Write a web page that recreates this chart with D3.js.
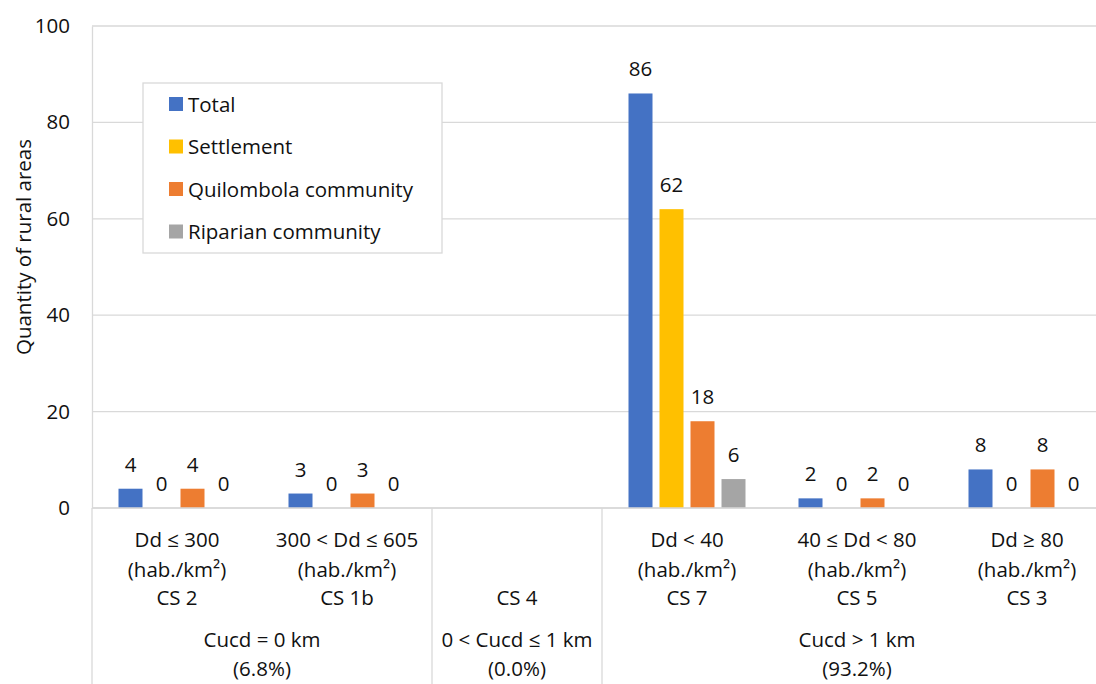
<!DOCTYPE html>
<html>
<head>
<meta charset="utf-8">
<script src="https://cdn.jsdelivr.net/npm/d3@7"></script>
<style>
  body { margin: 0; background: #fff; }
  text { font-family: "Open Sans", "Noto Sans", sans-serif; fill: #111; }
</style>
</head>
<body>
<script>
const categories = ["CS 2", "CS 1b", "CS 4", "CS 7", "CS 5", "CS 3"];
const subLabels = [
  ["Dd ≤ 300", "(hab./km²)", "CS 2"],
  ["300 < Dd ≤ 605", "(hab./km²)", "CS 1b"],
  ["", "", "CS 4"],
  ["Dd < 40", "(hab./km²)", "CS 7"],
  ["40 ≤ Dd < 80", "(hab./km²)", "CS 5"],
  ["Dd ≥ 80", "(hab./km²)", "CS 3"]
];
const groups = [
  { lines: ["Cucd = 0 km", "(6.8%)"], span: 2 },
  { lines: ["0 < Cucd ≤ 1 km", "(0.0%)"], span: 1 },
  { lines: ["Cucd > 1 km", "(93.2%)"], span: 3 }
];
const seriesNames = ["Total", "Settlement", "Quilombola community", "Riparian community"];
const colors = ["#4472C4", "#FFC000", "#ED7D31", "#A5A5A5"];
// null = no bar / no label (CS 4 is empty)
const total      = [4, 3, null, 86, 2, 8];
const settlement = [0, 0, null, 62, 0, 0];
const quilombola = [4, 3, null, 18, 2, 8];
const riparian   = [0, 0, null, 6, 0, 0];
const yTicks = [0, 20, 40, 60, 80, 100];

const seriesValues = [total, settlement, quilombola, riparian];

const width = 1096, height = 684;
const plotLeft = 92, plotRight = 1112, plotTop = 26, plotBottom = 508;
const fs = "20.5px";

const svg = d3.create("svg")
  .attr("width", width)
  .attr("height", height);
document.body.appendChild(svg.node());

const x0 = d3.scaleBand().domain(categories).range([plotLeft, plotRight]);
const groupW = 117;
const x1 = d3.scaleBand().domain(seriesNames).range([0, groupW]).paddingInner(7 / 31);
const y = d3.scaleLinear().domain([0, 100]).range([plotBottom, plotTop]);

// gridlines
svg.append("g")
  .selectAll("line")
  .data(yTicks)
  .join("line")
  .attr("x1", plotLeft).attr("x2", plotRight)
  .attr("y1", d => y(d)).attr("y2", d => y(d))
  .attr("stroke", "#d9d9d9").attr("stroke-width", 1.3);

// y axis
const yAxis = svg.append("g")
  .attr("transform", `translate(${plotLeft},0)`)
  .call(d3.axisLeft(y).tickValues(yTicks).tickSize(0).tickPadding(22));
yAxis.select(".domain").attr("stroke", "#d9d9d9").attr("stroke-width", 1.3);
yAxis.selectAll("text").style("font-size", fs).style("font-family", "'Open Sans', sans-serif").attr("fill", "#111");

svg.append("text")
  .attr("transform", "translate(31,247) rotate(-90)")
  .attr("text-anchor", "middle")
  .style("font-size", fs)
  .text("Quantity of rural areas");

// bars
const rows = categories.map((c, i) => ({
  cat: c,
  vals: seriesNames.map((s, j) => ({ s, v: seriesValues[j][i], color: colors[j] }))
}));

const catG = svg.append("g")
  .selectAll("g")
  .data(rows)
  .join("g")
  .attr("transform", d => `translate(${x0(d.cat) + (x0.bandwidth() - groupW) / 2},0)`);

catG.selectAll("rect")
  .data(d => d.vals.filter(v => v.v !== null))
  .join("rect")
  .attr("x", d => x1(d.s))
  .attr("width", x1.bandwidth())
  .attr("y", d => y(d.v))
  .attr("height", d => y(0) - y(d.v))
  .attr("fill", d => d.color);

catG.selectAll("text")
  .data(d => d.vals.filter(v => v.v !== null))
  .join("text")
  .attr("x", d => x1(d.s) + x1.bandwidth() / 2)
  .attr("y", d => y(d.v) - 17)
  .attr("text-anchor", "middle")
  .style("font-size", fs)
  .text(d => d.v);

// x axis baseline
svg.append("line")
  .attr("x1", plotLeft).attr("x2", plotRight)
  .attr("y1", plotBottom).attr("y2", plotBottom)
  .attr("stroke", "#d9d9d9").attr("stroke-width", 1.3);

// category labels
const lineY = [547, 577, 605];
const labG = svg.append("g")
  .selectAll("g")
  .data(categories.map((c, i) => ({ c, lines: subLabels[i] })))
  .join("g");
labG.selectAll("text")
  .data(d => d.lines.map((t, k) => ({ t, k, c: d.c })))
  .join("text")
  .attr("x", d => x0(d.c) + x0.bandwidth() / 2)
  .attr("y", d => lineY[d.k])
  .attr("text-anchor", "middle")
  .style("font-size", fs)
  .text(d => d.t);

// group labels and dividers
let idx = 0;
const groupData = groups.map(g => {
  const start = idx;
  idx += g.span;
  return {
    lines: g.lines,
    x0: x0(categories[start]),
    x1: x0(categories[idx - 1]) + x0.bandwidth()
  };
});

svg.append("g")
  .selectAll("line")
  .data(groupData)
  .join("line")
  .attr("x1", d => d.x0).attr("x2", d => d.x0)
  .attr("y1", plotBottom).attr("y2", height)
  .attr("stroke", "#d9d9d9").attr("stroke-width", 1.3);

const grpLineY = [647, 676];
svg.append("g")
  .selectAll("g")
  .data(groupData)
  .join("g")
  .selectAll("text")
  .data(d => d.lines.map((t, k) => ({ t, k, cx: (d.x0 + d.x1) / 2 })))
  .join("text")
  .attr("x", d => d.cx)
  .attr("y", d => grpLineY[d.k])
  .attr("text-anchor", "middle")
  .style("font-size", fs)
  .text(d => d.t);

// legend
const legend = svg.append("g").attr("transform", "translate(143,83)");
legend.append("rect")
  .attr("width", 299).attr("height", 170)
  .attr("fill", "#fff")
  .attr("stroke", "#d9d9d9").attr("stroke-width", 1.3);
const leg = legend.selectAll("g.item")
  .data(seriesNames)
  .join("g")
  .attr("class", "item")
  .attr("transform", (d, i) => `translate(26,${21 + i * 42.5})`);
leg.append("rect")
  .attr("y", -7).attr("width", 14).attr("height", 14)
  .attr("fill", (d, i) => colors[i]);
leg.append("text")
  .attr("x", 19).attr("y", 7.5)
  .style("font-size", fs)
  .text(d => d);
</script>
</body>
</html>
